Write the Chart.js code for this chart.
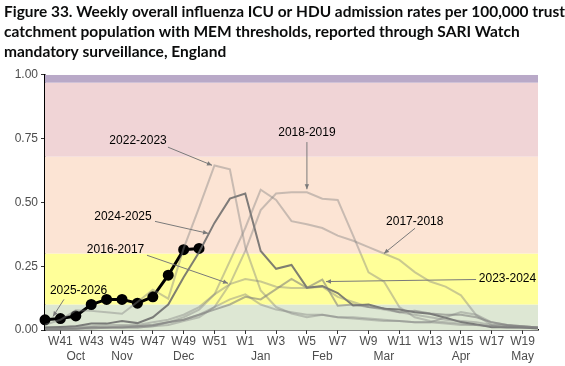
<!DOCTYPE html>
<html><head><meta charset="utf-8">
<script src="https://cdn.jsdelivr.net/npm/chart.js@4/dist/chart.umd.min.js"></script>
<style>html,body{margin:0;padding:0;background:#fff}#wrap{width:565px;height:366px;position:relative}</style>
</head><body><div id="wrap"><canvas id="c" width="565" height="366"></canvas></div>
<script>
// ---- Data (W40 .. W20) ----
const weeks = ['W40','W41','W42','W43','W44','W45','W46','W47','W48','W49','W50','W51','W52',
  'W1','W2','W3','W4','W5','W6','W7','W8','W9','W10','W11','W12','W13','W14','W15','W16','W17','W18','W19','W20'];
const months = ['','','Oct','','','Nov','','','','Dec','','','','','Jan','','','','Feb','','','','Mar','','','','','Apr','','','','May',''];
const yTicks = [0, 0.25, 0.5, 0.75, 1.0];

const s2016_17 = [0.01,0.01,0.015,0.015,0.02,0.02,0.02,0.03,0.04,0.06,0.09,0.14,0.18,0.2,0.19,0.17,0.165,0.165,0.17,0.13,0.11,0.09,0.08,0.07,0.06,0.05,0.04,0.035,0.03,0.02,0.02,0.01,0.01];
const s2017_18 = [0.005,0.005,0.01,0.01,0.01,0.015,0.015,0.02,0.03,0.05,0.08,0.14,0.27,0.40,0.55,0.51,0.427,0.415,0.40,0.37,0.35,0.325,0.30,0.275,0.227,0.19,0.17,0.136,0.057,0.02,0.015,0.015,0.01];
const s2018_19 = [0.0,0.005,0.005,0.01,0.01,0.01,0.01,0.015,0.02,0.035,0.05,0.09,0.18,0.31,0.47,0.535,0.54,0.54,0.515,0.51,0.37,0.226,0.19,0.09,0.05,0.035,0.03,0.025,0.02,0.015,0.01,0.01,0.008];
const s2019_20 = [0.0,0.0,0.005,0.005,0.01,0.01,0.01,0.015,0.03,0.04,0.06,0.09,0.12,0.14,0.1,0.08,0.07,0.06,0.06,0.05,0.05,0.045,0.04,0.035,0.03,0.03,0.05,0.07,0.06,0.03,0.02,0.015,0.01];
const s2022_23 = [0.02,0.04,0.077,0.075,0.07,0.064,0.11,0.158,0.123,0.32,0.48,0.645,0.63,0.325,0.155,0.09,0.065,0.05,0.06,0.05,0.045,0.04,0.035,0.035,0.03,0.03,0.025,0.02,0.02,0.015,0.01,0.01,0.01];
const s2023_24 = [0.005,0.005,0.005,0.01,0.01,0.01,0.015,0.02,0.03,0.04,0.06,0.08,0.1,0.13,0.12,0.16,0.2,0.165,0.198,0.095,0.1,0.09,0.085,0.07,0.075,0.065,0.06,0.06,0.05,0.03,0.02,0.015,0.01];
const s2024_25 = [0.01,0.012,0.015,0.025,0.025,0.035,0.027,0.05,0.10,0.207,0.305,0.42,0.515,0.535,0.31,0.24,0.255,0.166,0.172,0.145,0.096,0.10,0.083,0.08,0.07,0.064,0.048,0.031,0.022,0.011,0.011,0.01,0.006];
const s2025_26 = [0.04,0.045,0.055,0.10,0.12,0.12,0.105,0.13,0.215,0.315,0.32];

// MEM threshold bands (lower bounds) and colours
const bandEdges = [0, 0.10, 0.30, 0.68, 0.97, 1.0];
const bandColors = ['#dde7d3','#ffff99','#fce4d4','#f0d4d6','#b9a9c8'];

const annotations = [
  {text:'2022-2023', label:[6.04,0.741], from:[7.98,0.717], to:[10.84,0.646]},
  {text:'2018-2019', label:[17.0,0.772], from:[17.0,0.737], to:[17.0,0.552]},
  {text:'2024-2025', label:[5.06,0.446], from:[7.14,0.426], to:[10.58,0.379]},
  {text:'2016-2017', label:[4.58,0.316], from:[6.62,0.293], to:[11.88,0.183]},
  {text:'2025-2026', label:[2.18,0.155], from:[1.23,0.12], to:[0.52,0.053]},
  {text:'2017-2018', label:[24.0,0.426], from:[24.02,0.399], to:[22.0,0.30]},
  {text:'2023-2024', label:[30.02,0.202], from:[27.98,0.198], to:[18.24,0.19]}
];

const light = 'rgba(128,128,128,0.42)';
function ds(label, data, color, width, extra) {
  return Object.assign({label, data, borderColor: color, backgroundColor: color, borderWidth: width,
    pointRadius: 0, tension: 0, fill: false, spanGaps: false}, extra || {});
}

const bandsPlugin = {
  id: 'bands',
  beforeDatasetsDraw(chart) {
    const {ctx, chartArea: a, scales: {y}} = chart;
    ctx.save();
    for (let i = 0; i < bandColors.length; i++) {
      const top = y.getPixelForValue(bandEdges[i+1]);
      const bot = y.getPixelForValue(bandEdges[i]);
      ctx.fillStyle = bandColors[i];
      ctx.fillRect(a.left, top, a.right - a.left, bot - top);
    }
    ctx.restore();
  }
};

const annotPlugin = {
  id: 'annots',
  afterDatasetsDraw(chart) {
    const {ctx, scales: {x, y}} = chart;
    ctx.save();
    ctx.font = '12px "Liberation Sans", Arial, sans-serif';
    ctx.textAlign = 'center';
    ctx.textBaseline = 'middle';
    for (const an of annotations) {
      const fx = x.getPixelForValue(an.from[0]), fy = y.getPixelForValue(an.from[1]);
      const tx = x.getPixelForValue(an.to[0]), ty = y.getPixelForValue(an.to[1]);
      ctx.strokeStyle = '#7a7a7a';
      ctx.fillStyle = '#7a7a7a';
      ctx.lineWidth = 1;
      ctx.beginPath(); ctx.moveTo(fx, fy); ctx.lineTo(tx, ty); ctx.stroke();
      const ang = Math.atan2(ty - fy, tx - fx), L = 5, W = 2.2;
      ctx.beginPath();
      ctx.moveTo(tx, ty);
      ctx.lineTo(tx - L*Math.cos(ang) + W*Math.sin(ang), ty - L*Math.sin(ang) - W*Math.cos(ang));
      ctx.lineTo(tx - L*Math.cos(ang) - W*Math.sin(ang), ty - L*Math.sin(ang) + W*Math.cos(ang));
      ctx.closePath(); ctx.fill();
      ctx.fillStyle = '#000';
      ctx.fillText(an.text, x.getPixelForValue(an.label[0]), y.getPixelForValue(an.label[1]));
    }
    ctx.restore();
  }
};

new Chart(document.getElementById('c'), {
  type: 'line',
  data: {
    labels: weeks,
    datasets: [
      ds('2016-2017', s2016_17, light, 2),
      ds('2017-2018', s2017_18, light, 2),
      ds('2018-2019', s2018_19, light, 2),
      ds('2019-2020', s2019_20, light, 2),
      ds('2022-2023', s2022_23, light, 2),
      ds('2023-2024', s2023_24, 'rgba(120,120,120,0.55)', 2),
      ds('2024-2025', s2024_25, 'rgba(105,105,105,0.85)', 2),
      ds('2025-2026', s2025_26, '#000000', 3, {pointRadius: 4, pointBackgroundColor: '#000', pointBorderColor: '#000'})
    ]
  },
  options: {
    responsive: false,
    animation: false,
    layout: {padding: {left: 4, right: 0, top: 0, bottom: 0}},
    plugins: {
      legend: {display: false},
      tooltip: {enabled: false},
      title: {
        display: true, align: 'start', color: '#0b0c0c',
        text: ['Figure 33. Weekly overall influenza ICU or HDU admission rates per 100,000 trust',
               'catchment population with MEM thresholds, reported through SARI Watch',
               'mandatory surveillance, England'],
        font: {family: 'Lato', size: 15.5, weight: 'bold', lineHeight: 1.29},
        padding: {top: 2, bottom: 13}
      }
    },
    scales: {
      x: {
        type: 'category', offset: false,
        grid: {drawOnChartArea: false, tickLength: 4, tickColor: (c) => (c.index % 2 === 1 ? '#333' : 'rgba(0,0,0,0)')},
        border: {color: '#000', width: 1.5},
        ticks: {
          autoSkip: false, maxRotation: 0, padding: 0, color: '#4d4d4d',
          font: {family: '"Liberation Sans", Arial, sans-serif', size: 12, lineHeight: 1.25},
          callback: (v, i) => [ (i % 2 === 1 ? weeks[i] : ''), months[i] ]
        },
        afterFit: (s) => { s.height = 36; }
      },
      y: {
        min: 0, max: 1,
        afterBuildTicks: (s) => { s.ticks = yTicks.map(v => ({value: v})); },
        grid: {drawOnChartArea: false, tickLength: 4, tickColor: '#333'},
        border: {color: '#000', width: 1.5},
        ticks: {color: '#4d4d4d', padding: 3, font: {family: '"Liberation Sans", Arial, sans-serif', size: 12},
          callback: (v) => Number(v).toFixed(2)},
        afterFit: (s) => { s.width = 41; }
      },
      yR: {
        position: 'right', min: 0, max: 1, display: true,
        grid: {display: false, drawTicks: false},
        border: {display: false},
        ticks: {display: false},
        afterFit: (s) => { s.width = 27; }
      }
    }
  },
  plugins: [bandsPlugin, annotPlugin]
});
</script>
</body></html>
